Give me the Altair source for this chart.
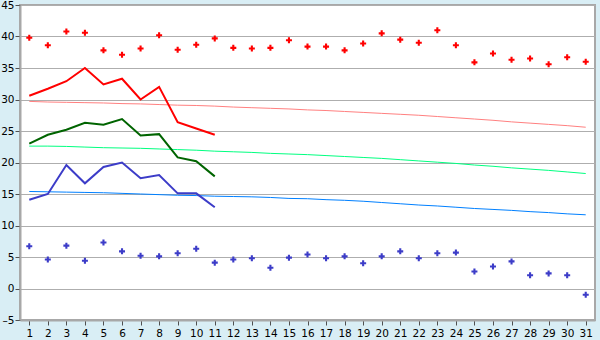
import altair as alt
import pandas as pd

days = list(range(1, 32))
rec_max = [39.8, 38.6, 40.8, 40.6, 37.8, 37.1, 38.1, 40.2, 37.9, 38.7, 39.7, 38.2, 38.1, 38.2, 39.4, 38.4,
           38.4, 37.8, 38.9, 40.5, 39.5, 39.0, 41.0, 38.6, 35.9, 37.3, 36.3, 36.5, 35.6, 36.7, 36.0]
rec_min = [6.7, 4.6, 6.8, 4.4, 7.3, 5.9, 5.2, 5.1, 5.6, 6.3, 4.1, 4.6, 4.8, 3.3, 4.9, 5.4,
           4.8, 5.1, 4.0, 5.1, 5.9, 4.8, 5.6, 5.7, 2.7, 3.5, 4.3, 2.1, 2.4, 2.1, -1.0]
obs_max = [30.6, 31.7, 32.9, 35.0, 32.4, 33.3, 30.0, 32.0, 26.4, 25.4, 24.4]
obs_mean = [23.0, 24.4, 25.2, 26.3, 26.0, 26.9, 24.3, 24.5, 20.8, 20.2, 17.8]
obs_min = [14.1, 15.0, 19.6, 16.7, 19.3, 20.0, 17.5, 18.0, 15.1, 15.1, 12.9]
norm_max = [29.7, 29.6, 29.55, 29.5, 29.45, 29.35, 29.3, 29.2, 29.1, 29.05, 28.95, 28.8, 28.7, 28.6, 28.5, 28.35,
            28.25, 28.1, 27.95, 27.8, 27.65, 27.5, 27.3, 27.1, 26.9, 26.7, 26.45, 26.25, 26.05, 25.85, 25.6]
norm_mean = [22.6, 22.6, 22.55, 22.45, 22.35, 22.3, 22.25, 22.15, 22.05, 21.95, 21.8, 21.7, 21.6, 21.45, 21.35, 21.25,
             21.1, 20.95, 20.8, 20.65, 20.45, 20.25, 20.05, 19.85, 19.6, 19.4, 19.15, 18.95, 18.75, 18.5, 18.25]
norm_min = [15.4, 15.35, 15.3, 15.25, 15.2, 15.1, 15.0, 14.9, 14.8, 14.75, 14.65, 14.6, 14.55, 14.45, 14.3, 14.25,
            14.1, 14.0, 13.85, 13.65, 13.45, 13.25, 13.1, 12.9, 12.7, 12.55, 12.4, 12.2, 12.05, 11.85, 11.7]
y_ticks = [-5, 0, 5, 10, 15, 20, 25, 30, 35, 40, 45]

series_names = ["norm_max", "norm_mean", "norm_min", "obs_max", "obs_mean", "obs_min", "rec_max", "rec_min"]
series_colors = ["#FF8080", "#00FF80", "#0080FF", "#FF0000", "#006400", "#3C3CC8", "#FF0000", "#3C3CC8"]


def frame(name, vals):
    return pd.DataFrame({"day": days[:len(vals)], "value": vals, "series": name})


norm_df = pd.concat([frame("norm_max", norm_max), frame("norm_mean", norm_mean), frame("norm_min", norm_min)])
obs_df = pd.concat([frame("obs_max", obs_max), frame("obs_mean", obs_mean), frame("obs_min", obs_min)])
rec_df = pd.concat([frame("rec_max", rec_max), frame("rec_min", rec_min)])

x = alt.X("day:O", title=None, sort=days,
          axis=alt.Axis(labelAngle=0, tickSize=5, labelPadding=3, grid=False))
y = alt.Y("value:Q", title=None,
          scale=alt.Scale(domain=[-5, 45], nice=False, zero=False),
          axis=alt.Axis(values=y_ticks, tickSize=5, labelPadding=1, grid=True,
                        labelExpr="datum.value < 0 ? '\u2013' + abs(datum.value) : datum.label"))
color = alt.Color("series:N", scale=alt.Scale(domain=series_names, range=series_colors), legend=None)

norm_layer = alt.Chart(norm_df).mark_line(strokeWidth=1).encode(x=x, y=y, color=color, detail="series:N")
obs_layer = alt.Chart(obs_df).mark_line(strokeWidth=2).encode(x=x, y=y, color=color, detail="series:N")
plus = "M-0.35,-1H0.35V-0.35H1V0.35H0.35V1H-0.35V0.35H-1V-0.35H-0.35Z"
rec_layer = alt.Chart(rec_df).mark_point(shape=plus, filled=True, size=36, opacity=1).encode(
    x=x, y=y, color=color)

chart = alt.layer(norm_layer, obs_layer, rec_layer).properties(
    width=575, height=315,
    autosize=alt.AutoSizeParams(type="none"),
    padding={"left": 20, "top": 5, "right": 5, "bottom": 20},
    background="#D9EEF5",
).configure_view(
    fill="white", stroke="#A8A8A8", strokeWidth=2
).configure_axis(
    domainColor="#A8A8A8", domainWidth=2, tickColor="#505050", gridColor="#AEAEAE",
    labelFont="DejaVu Sans", labelFontSize=10.5, labelColor="black",
)

chart.save("out.html", embed_options={"renderer": "svg", "actions": False})
